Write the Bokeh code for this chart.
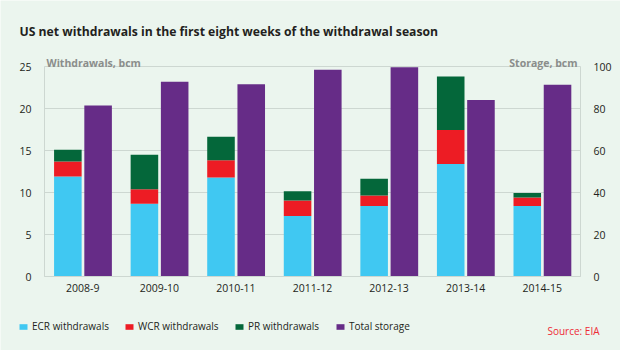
from bokeh.plotting import figure
from bokeh.models import (Range1d, LinearAxis, FixedTicker, Label, Legend, LegendItem,
                          ColumnDataSource)
from bokeh.embed import file_html
from bokeh.resources import INLINE

# ---- data ----
seasons = ["2008-9", "2009-10", "2010-11", "2011-12", "2012-13", "2013-14", "2014-15"]
ecr = [11.9, 8.65, 11.8, 7.2, 8.4, 13.4, 8.4]
wcr = [1.8, 1.75, 2.05, 1.85, 1.25, 4.05, 1.0]
pr = [1.4, 4.1, 2.8, 1.1, 2.0, 6.35, 0.55]
storage = [81.4, 92.7, 91.6, 98.4, 99.7, 84.1, 91.3]
left_ticks = [0, 5, 10, 15, 20, 25]
right_ticks = [0, 20, 40, 60, 80, 100]
series_names = ["ECR withdrawals", "WCR withdrawals", "PR withdrawals", "Total storage"]

# ---- style / layout ----
BG = "#EBF5EE"
GRID = "#CDD7D1"
TXT = "#231F20"
GRAY = "#8A8D8B"
C_ECR = "#40C8F2"
C_WCR = "#ED1C24"
C_PR = "#04673A"
C_ST = "#662C87"
FONT = "Open Sans"

W, H = 620, 350
PLOT_L, PLOT_R, PLOT_B = 44, 580, 276     # plot area in page pixels
PX_PER_UNIT = 8.4                          # pixels per bcm on the left scale
n = len(seasons)
PX_PER_CAT = (PLOT_R - PLOT_L) / n
RATIO = right_ticks[-1] / left_ticks[-1]


def dx(sx):   # page pixel -> x data
    return (sx - PLOT_L) / PX_PER_CAT


def dy(sy):   # page pixel -> y data (left scale)
    return (PLOT_B - sy) / PX_PER_UNIT


centers = [i + 0.5 for i in range(n)]
src = ColumnDataSource(dict(
    xl=[c - 0.195 for c in centers],
    xr=[c + 0.2 for c in centers],
    ecr=ecr, wcr=wcr, pr=pr, storage=storage,
))

p = figure(width=W, height=H, output_backend="svg", toolbar_location=None,
           x_range=Range1d(dx(0), dx(W)), y_range=Range1d(dy(H), dy(0)),
           min_border=0, x_axis_type=None, y_axis_type=None,
           background_fill_color=BG, border_fill_color=BG, outline_line_color=None)
p.extra_y_ranges = {"storage": Range1d(dy(H) * RATIO, dy(0) * RATIO)}
p.grid.visible = False

# horizontal grid lines, only across the plot area
gsrc = ColumnDataSource(dict(y=left_ticks, x0=[0] * len(left_ticks), x1=[n] * len(left_ticks)))
p.segment(x0="x0", x1="x1", y0="y", y1="y", source=gsrc, line_color=GRID, line_width=1)

stack = p.vbar_stack(["ecr", "wcr", "pr"], x="xl", width=0.36, source=src,
                     color=[C_ECR, C_WCR, C_PR], line_color=None)
st = p.vbar(x="xr", top="storage", width=0.36, source=src, y_range_name="storage",
            color=C_ST, line_color=None)


def style_axis(ax):
    ax.major_tick_line_color = None
    ax.minor_tick_line_color = None
    ax.axis_line_color = GRID
    ax.major_label_text_font = FONT
    ax.major_label_text_font_size = "10.5px"
    ax.major_label_text_color = TXT


ly = LinearAxis(ticker=FixedTicker(ticks=left_ticks), bounds=(left_ticks[0], left_ticks[-1]),
                fixed_location=0, major_label_standoff=7)
style_axis(ly)
p.add_layout(ly, "left")

ry = LinearAxis(y_range_name="storage", ticker=FixedTicker(ticks=right_ticks),
                bounds=(right_ticks[0], right_ticks[-1]), fixed_location=n,
                major_label_standoff=7)
style_axis(ry)
p.add_layout(ry, "right")

bx = LinearAxis(ticker=FixedTicker(ticks=centers), bounds=(0, n), fixed_location=0,
                major_label_overrides={c: s for c, s in zip(centers, seasons)},
                major_label_standoff=1)
style_axis(bx)
p.add_layout(bx, "below")

# ---- texts ----
p.add_layout(Label(x=dx(19), y=dy(30.7), text_baseline="alphabetic",
                   text="US net withdrawals in the first eight weeks of the withdrawal season",
                   text_font=FONT, text_font_size="12.2px", text_font_style="bold",
                   text_color=TXT))
p.add_layout(Label(x=dx(46), y=dy(62.3), text_baseline="alphabetic",
                   text="Withdrawals, bcm", text_font=FONT, text_font_size="10.5px",
                   text_font_style="bold", text_color=GRAY))
p.add_layout(Label(x=dx(577), y=dy(62.3), text_baseline="alphabetic",
                   text_align="right", text="Storage, bcm", text_font=FONT,
                   text_font_size="10.5px", text_font_style="bold", text_color=GRAY))
p.add_layout(Label(x=dx(599), y=dy(330), text_baseline="alphabetic", text_align="right",
                   text="Source: EIA", text_font=FONT, text_font_size="10px",
                   text_color="#EE2B36"))

# ---- legend: one entry per legend for exact placement ----
legend_px = [18, 124, 234, 335]
for name, r, lx in zip(series_names, list(stack) + [st], legend_px):
    lg = Legend(items=[LegendItem(label=name, renderers=[r])],
                location=(lx, 17), orientation="horizontal",
                glyph_width=10, glyph_height=7, label_standoff=4,
                label_text_font=FONT, label_text_font_size="10px",
                label_text_color=TXT, padding=0, margin=0, spacing=0,
                border_line_color=None, background_fill_alpha=0)
    p.add_layout(lg, "center")

open("out.html", "w").write(file_html(p, INLINE))
